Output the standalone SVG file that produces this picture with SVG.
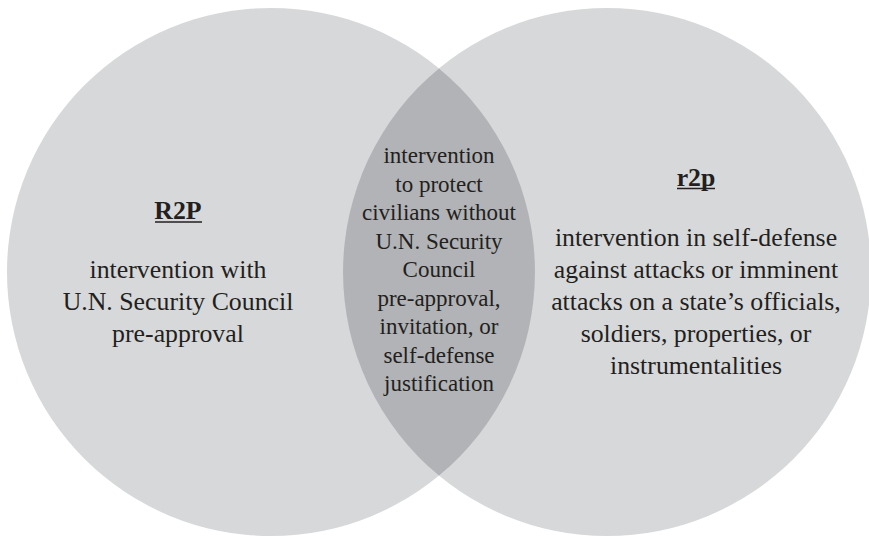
<svg xmlns="http://www.w3.org/2000/svg" width="869" height="536" viewBox="0 0 869 536">
<style>
.c{fill:#d7d8da}
.lens{fill:#b1b3b6}
text{font-family:"Liberation Serif","Times New Roman",serif;fill:#231f20;text-anchor:middle}
.side{font-size:25.8px}
.mid{font-size:23px}
.head{font-size:25.8px;font-weight:bold}
.ul{stroke:#231f20;stroke-width:1.5}
</style>
<rect width="869" height="536" fill="#ffffff"/>
<g id="left-circle">
<circle class="c" cx="271" cy="272" r="264"/>
</g>
<g id="right-circle">
<circle class="c" cx="607" cy="272" r="264"/>
</g>
<g id="overlap">
<path class="lens" d="M439,68.4 A264,264 0 0,1 439,475.6 A264,264 0 0,1 439,68.4 Z"/>
</g>
<g id="connectors"/>
<g id="r2p-label">
<text class="head" x="178" y="219">R2P</text>
<line class="ul" x1="155" y1="222" x2="202" y2="222"/>
<text class="side" x="178" y="278">intervention with</text>
<text class="side" x="178" y="310">U.N. Security Council</text>
<text class="side" x="178" y="342">pre-approval</text>
</g>
<g id="overlap-label">
<text class="mid" x="439" y="163">intervention</text>
<text class="mid" x="439" y="191.5">to protect</text>
<text class="mid" x="439" y="220">civilians without</text>
<text class="mid" x="439" y="248.5">U.N. Security</text>
<text class="mid" x="439" y="277">Council</text>
<text class="mid" x="439" y="305.5">pre-approval,</text>
<text class="mid" x="439" y="334">invitation, or</text>
<text class="mid" x="439" y="362.5">self-defense</text>
<text class="mid" x="439" y="391">justification</text>
</g>
<g id="r2p-small-label">
<text class="head" x="696" y="186">r2p</text>
<line class="ul" x1="677" y1="188.5" x2="715" y2="188.5"/>
<text class="side" x="696" y="246">intervention in self-defense</text>
<text class="side" x="696" y="278">against attacks or imminent</text>
<text class="side" x="696" y="310">attacks on a state’s officials,</text>
<text class="side" x="696" y="342">soldiers, properties, or</text>
<text class="side" x="696" y="374">instrumentalities</text>
</g>
</svg>
